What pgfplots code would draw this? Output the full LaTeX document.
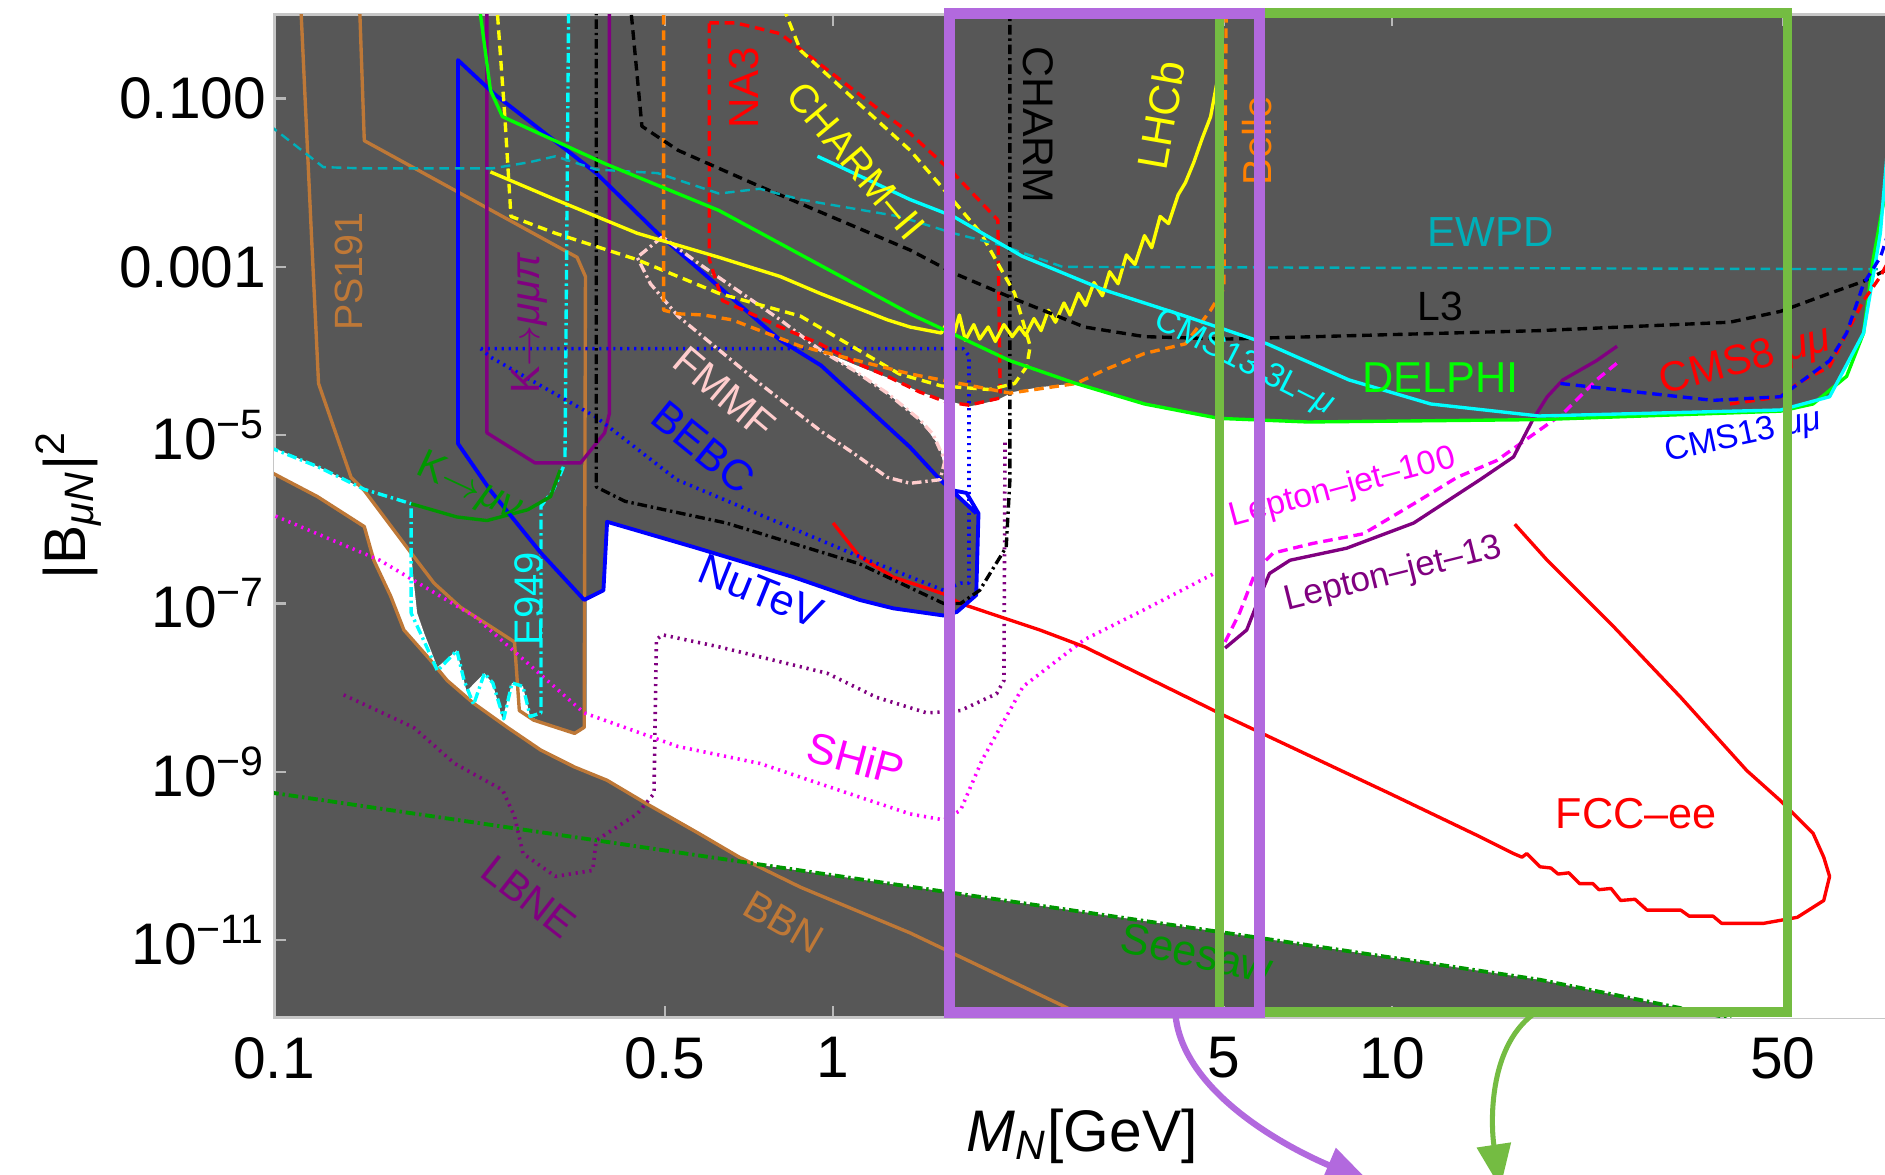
\documentclass[border=0pt]{standalone}
\usepackage{fontspec}
\setmainfont{Liberation Sans}
\usepackage{pgfplots}
\pgfplotsset{compat=1.18}
\usetikzlibrary{arrows.meta}

\newcommand\fs[1]{\fontsize{#1pt}{#1pt}\selectfont}

\definecolor{bgdark}{RGB}{87,87,87}
\definecolor{cTeal}{RGB}{0,175,185}
\definecolor{cCyan}{RGB}{0,255,255}
\definecolor{cLime}{RGB}{0,255,0}
\definecolor{cGreen}{RGB}{0,150,0}
\definecolor{cBrown}{RGB}{190,120,55}
\definecolor{cPurple}{RGB}{128,0,128}
\definecolor{cMagenta}{RGB}{255,0,255}
\definecolor{cPink}{RGB}{255,205,205}
\definecolor{cOrange}{RGB}{255,128,0}
\definecolor{cYellow}{RGB}{255,255,0}
\definecolor{cRed}{RGB}{255,0,0}
\definecolor{cBlue}{RGB}{0,0,255}
\definecolor{ovPurple}{RGB}{178,105,222}
\definecolor{ovGreen}{RGB}{116,188,66}

\pgfplotsset{
  dashedline/.style={dash pattern=on 2pt off 1.2pt},
  dottedline/.style={dash pattern=on 0.45pt off 1pt, line width=0.75pt},
  dashdotline/.style={dash pattern=on 2pt off 0.8pt on 0.5pt off 0.8pt},
}

\begin{document}
\begin{tikzpicture}
\path[use as bounding box] (0,0) rectangle (392pt,244.25pt);

\begin{axis}[
  at={(57pt,32.625pt)}, anchor=south west,
  scale only axis, width=337.5pt, height=208.625pt,
  xmode=log, ymode=log,
  xmin=0.1, xmax=80, ymin=1.2e-12, ymax=1,
  axis background/.style={fill=bgdark},
  axis line style={draw=gray!45, line width=0.6pt},
  tick style={draw=gray!55, line width=0.5pt},
  major tick length=2.5pt,
  xminorticks=false, yminorticks=false,
  xtick={0.1,0.5,1,5,10,50},
  xticklabels={0.1,0.5,1,5,10,50},
  ytick={1e-11,1e-9,1e-7,1e-5,1e-3,1e-1},
  yticklabels={10\textsuperscript{−11},10\textsuperscript{−9},10\textsuperscript{−7},10\textsuperscript{−5},0.001,0.100},
  tick label style={font=\fs{12.2}, text=black},
  xticklabel style={inner sep=0pt, yshift=-3.9pt},
  yticklabel style={inner sep=0pt, xshift=-1.5pt},
  xlabel={{\itshape M}\textsubscript{\itshape N}[GeV]},
  ylabel={|B\textsubscript{\itshape μN}|\textsuperscript{2}},
  xlabel style={at={([yshift=-24.6pt]axis description cs:0.4978,0)}, anchor=center, font=\fs{12.2}},
  ylabel style={at={([xshift=-42.75pt]axis description cs:0,0.511)}, anchor=center, font=\fs{12.2}},
  every axis plot/.append style={no markers, line width=0.7pt, line join=round},
]

% allowed (unexcluded) region
\addplot[fill=white, draw=none] coordinates {
 (0.098,7.44e-6) (0.1195,4.25e-6) (0.145,2.276e-6) (0.1593,9.68e-7) (0.1759,3.98e-7)
 (0.1776,1.931e-7) (0.1803,7.69e-8) (0.1857,4.39e-8) (0.196,1.75e-8) (0.2123,2.773e-8)
 (0.2209,9.06e-9) (0.2378,1.484e-8) (0.2462,1.104e-8) (0.2562,4.25e-9) (0.2665,1.14e-8)
 (0.2788,1.033e-8) (0.2871,4.54e-9) (0.2958,4.115e-9) (0.3249,3.162e-9) (0.3448,2.773e-9)
 (0.3587,3.268e-9) (0.3623,5.01e-9) (0.3623,1.104e-7) (0.3883,1.436e-7) (0.3942,9.36e-7)
 (0.563,4.69e-7) (0.849,2.062e-7) (1.115,1.104e-7) (1.281,8.77e-8) (1.472,7.69e-8)
 (1.577,7.2e-8) (1.665,7.94e-8) (1.803,1.259e-7) (1.82,1.179e-6) (1.585,2.865e-6)
 (1.577,4.25e-6) (1.554,7.2e-6) (1.428,1.533e-5) (1.25,3.162e-5) (1.088,5.91e-5)
 (0.947,1.033e-4) (1.088,6.965e-5) (1.25,4.85e-5) (1.428,3.268e-5) (1.585,2.596e-5)
 (1.759,2.203e-5) (1.961,2.596e-5) (2.102,3.268e-5) (2.343,3.728e-5) (2.72,4.115e-5)
 (3.606,2.351e-5) (4.90,1.585e-5) (7.07,1.436e-5) (18.39,1.533e-5) (49.5,1.995e-5)
 (60.6,2.865e-5) (69.7,1.638e-4) (74.7,2.512e-3) (76.2,1.068e-2) (77.7,0.2062)
 (84.9,2.87) (84.9,5.53e-13) (40.4,1.178e-12) (18.39,3.38e-12) (5.05,1.219e-11)
 (1.373,4.325e-11) (0.732,7.94e-11) (0.6796,9.68e-11) (0.574,1.868e-10) (0.4618,4.25e-10)
 (0.3942,7.94e-10) (0.3448,1.14e-9) (0.3002,1.807e-9) (0.2614,3.378e-9) (0.2275,6.52e-9)
 (0.204,1.218e-8) (0.1904,2.131e-8) (0.1707,4.85e-8) (0.1617,1.218e-7) (0.1508,3.268e-7)
 (0.145,8.21e-7) (0.1195,1.868e-6) (0.098,3.728e-6)
} -- cycle;

% PS191
\addplot[cBrown] coordinates {
 (0.1115,1.5) (0.1166,2.512e-3) (0.1201,4.115e-5) (0.1373,3.162e-6) (0.145,2.203e-6)
 (0.1759,3.98e-7) (0.1932,1.75e-7) (0.2154,9.06e-8) (0.2438,5.35e-8) (0.2692,3.49e-8)
 (0.2746,5.35e-9) (0.2914,4.115e-9) (0.3448,2.865e-9) (0.3587,3.378e-9) (0.3606,7.69e-4)
 (0.3483,1.301e-3) (0.145,3.162e-2) (0.1421,1.5)};
% BBN
\addplot[cBrown] coordinates {
 (0.098,3.728e-6) (0.1195,1.868e-6) (0.145,8.21e-7) (0.1508,3.268e-7) (0.1617,1.218e-7)
 (0.1707,4.85e-8) (0.1904,2.131e-8) (0.204,1.218e-8) (0.2275,6.52e-9) (0.2614,3.378e-9)
 (0.3002,1.807e-9) (0.3448,1.14e-9) (0.3942,7.94e-10) (0.4618,4.25e-10) (0.574,1.868e-10)
 (0.6796,9.68e-11) (0.8748,4.25e-11) (1.373,1.219e-11) (2.588,1.638e-12) (2.929,1.068e-12)};
% Seesaw
\addplot[cGreen, dashdotline, line width=0.8pt] coordinates {
 (0.098,5.71e-10) (0.377,1.535e-10) (1.373,4.325e-11) (5.05,1.219e-11) (18.39,3.38e-12) (40.4,1.178e-12)};
% LBNE
\addplot[cPurple, dottedline] coordinates {
 (0.1332,8.21e-9) (0.1776,3.378e-9) (0.2102,1.259e-9) (0.2562,6.1e-10) (0.2692,2.961e-10)
 (0.2788,1.068e-10) (0.3186,5.72e-11) (0.3715,6.74e-11) (0.377,1.533e-10) (0.4462,3.162e-10)
 (0.4782,5.53e-10) (0.4829,3.728e-8) (0.495,4.25e-8) (0.6247,3.06e-8) (0.9755,1.484e-8)
 (1.195,7.69e-9) (1.472,5.01e-9) (1.69,5.35e-9) (1.961,8.48e-9) (2.021,1.218e-8) (2.03,8.77e-6)};
% SHiP
\addplot[cMagenta, dottedline] coordinates {
 (0.098,1.179e-6) (0.1546,3.268e-7) (0.2287,6.965e-8) (0.3587,5.01e-9) (0.528,2.0e-9)
 (0.7393,1.259e-9) (1.115,5.01e-10) (1.373,3.162e-10) (1.577,2.683e-10) (1.69,3.49e-10)
 (1.848,1.389e-9) (2.187,1.033e-8) (2.815,3.728e-8) (3.606,8.48e-8) (4.805,2.276e-7)};
% Lepton-jet-100
\addplot[cMagenta, dashedline] coordinates {
 (5.025,3.49e-8) (5.333,7.69e-8) (5.715,2.512e-7) (6.125,3.98e-7) (7.21,5.18e-7)
 (8.88,6.74e-7) (10.93,1.533e-6) (13.07,3.162e-6) (15.39,5.01e-6) (17.68,9.68e-6)
 (20.2,1.807e-5) (23.2,4.54e-5) (25.25,7.2e-5)};
% Lepton-jet-13
\addplot[cPurple] coordinates {
 (5.025,2.961e-8) (5.493,4.85e-8) (5.8,1.218e-7) (6.034,2.276e-7) (6.565,3.268e-7)
 (8.286,4.54e-7) (10.93,9.06e-7) (14.36,2.961e-6) (16.49,5.53e-6) (17.85,1.533e-5)
 (18.94,2.865e-5) (20.2,4.54e-5) (23.2,7.69e-5) (25.25,1.14e-4)};
% FCC-ee
\addplot[cRed] coordinates {
 (1.0,9.06e-7) (1.115,3.607e-7) (1.281,2.062e-7) (1.577,1.301e-7) (1.69,1e-7) (2.343,4.85e-8)
 (2.815,3.06e-8) (5.05,4.54e-9) (9.90,5.53e-10) (14.36,1.692e-10) (16.49,1.068e-10)
 (17.07,9.68e-11) (17.41,1.068e-10) (18.39,7.44e-11) (19.23,7.2e-11) (19.81,6.1e-11)
 (20.71,6.31e-11) (21.65,4.69e-11) (22.87,4.69e-11) (23.44,3.98e-11) (24.63,4.115e-11)
 (25.63,2.961e-11) (27.19,3.06e-11) (28.57,2.276e-11) (32.82,2.276e-11) (33.98,1.931e-11)
 (37.5,1.931e-11) (38.84,1.585e-11) (46.2,1.585e-11) (53.05,1.868e-11) (59.16,2.961e-11)
 (60.6,5.72e-11) (59.16,9.68e-11) (56.6,1.868e-10) (49.5,4.54e-10) (43.1,1.033e-9)
 (32.82,7.69e-9) (24.87,5.35e-8) (18.94,3.268e-7) (16.57,8.77e-7)};
% E949
\addplot[cCyan, dashdotline] coordinates {
 (0.098,7.2e-6) (0.1195,4.25e-6) (0.145,2.276e-6) (0.1759,1.533e-6) (0.1759,7.69e-8)
 (0.1829,4.39e-8) (0.196,1.585e-8) (0.2123,2.773e-8) (0.2187,1.218e-8) (0.2275,6.31e-9)
 (0.2378,1.484e-8) (0.2462,1.14e-8) (0.2575,4.25e-9) (0.2665,1.14e-8) (0.2788,1.033e-8)
 (0.2871,4.54e-9) (0.3002,5.01e-9) (0.3002,1.436e-6) (0.3154,2.203e-6) (0.3249,3.378e-6)
 (0.3314,4.69e-6) (0.3365,1.5)};
% K -> mu nu
\addplot[cGreen] coordinates {
 (0.1759,1.533e-6) (0.2123,1.068e-6) (0.2403,9.68e-7) (0.2843,1.301e-6) (0.3123,1.868e-6) (0.3249,3.852e-6)};
% K -> mu mu pi
\addplot[cPurple] coordinates {
 (0.2403,1.5) (0.2403,1.068e-5) (0.2929,4.69e-6) (0.3535,4.69e-6) (0.3903,1.068e-5) (0.398,1.807e-5) (0.398,1.5)};
% BEBC (dotted)
\addplot[cBlue, dottedline] coordinates {
 (0.2343,1.068e-4) (1.707,1.068e-4) (1.75,8.77e-5) (1.75,1.75e-7) (1.69,1.75e-7) (1.577,1.436e-7)
 (1.115,3.607e-7) (0.5253,2.961e-6) (0.377,1.638e-5) (0.2438,8.48e-5) (0.2343,1.068e-4)};
% BEBC and NuTeV
\addplot[cBlue, line width=0.8pt] coordinates {
 (1.641,2.203e-6) (1.732,2.062e-6) (1.82,1.179e-6) (1.803,1.259e-7) (1.665,7.94e-8)
 (1.577,7.2e-8) (1.472,7.69e-8) (1.281,8.77e-8) (1.115,1.104e-7) (0.849,2.062e-7)
 (0.563,4.69e-7) (0.3942,9.36e-7) (0.3883,1.436e-7) (0.3587,1.104e-7) (0.3002,3.98e-7)
 (0.2438,2.203e-6) (0.2133,7.94e-6) (0.2133,0.2865) (0.2474,0.114) (0.377,1.301e-2)
 (0.4853,2.512e-3) (0.8043,1.345e-4) (0.9517,6.74e-5) (1.373,7.2e-6) (1.554,2.961e-6) (1.803,1.179e-6)};
% FMMF
\addplot[cPink, dashdotline] coordinates {
 (0.495,2.276e-3) (0.4462,1.301e-3) (0.4711,6.31e-4) (0.528,2.596e-4) (0.7393,4.115e-5)
 (0.947,1.14e-5) (1.088,6.1e-6) (1.25,3.162e-6) (1.373,2.683e-6) (1.554,2.961e-6)
 (1.585,5.01e-6) (1.508,1.033e-5) (1.428,1.533e-5) (1.25,3.162e-5) (1.088,5.91e-5)
 (0.947,1.033e-4) (0.8043,2.351e-4) (0.574,1.104e-3) (0.495,2.276e-3)};
% CHARM
\addplot[black, dashdotline] coordinates {
 (0.377,1.5) (0.377,2.43e-6) (0.4246,1.638e-6) (0.6435,9.06e-7) (1.115,2.961e-7) (1.577,1e-7)
 (1.69,1e-7) (1.829,1.436e-7) (2.04,4.69e-7) (2.071,2.865e-6) (2.071,1.5)};
% NA3
\addplot[cRed, dashedline] coordinates {
 (0.6005,0.794) (0.6696,0.794) (0.8043,0.5908) (1.373,3.852e-2) (1.641,1.301e-2) (1.971,3.607e-3)
 (1.991,2.773e-5) (1.75,2.276e-5) (1.585,2.512e-5) (1.428,3.268e-5) (1.25,5.01e-5) (1.088,7.44e-5)
 (0.947,1.218e-4) (0.8043,1.931e-4) (0.634,3.98e-4) (0.6005,1.218e-3) (0.6005,0.794)};
% CHARM-II
\addplot[cYellow, dashedline] coordinates {
 (0.2499,1.5) (0.2587,6.1e-2) (0.2653,3.98e-3) (0.3186,2.512e-3) (0.4462,1.218e-3) (0.6247,4.85e-4)
 (0.8748,2.596e-4) (1.313,5.35e-5) (1.561,3.852e-5) (1.904,3.49e-5) (2.112,4.115e-5) (2.219,6.52e-5)
 (2.252,1.14e-4) (2.112,4.85e-4) (1.838,2.512e-3) (1.561,9.06e-3) (1.373,2.43e-2) (0.8748,0.3728) (0.8043,1.5)};
% Belle
\addplot[cOrange, dashedline] coordinates {
 (0.4975,1.5) (0.4975,3.06e-4) (0.528,2.773e-4) (0.5857,2.683e-4) (0.6596,2.351e-4) (0.8748,1.14e-4)
 (1.373,5.35e-5) (2.071,3.162e-5) (2.72,4.115e-5) (3.047,5.91e-5) (3.606,9.36e-5) (4.267,1.218e-4)
 (4.734,3.06e-4) (5.0,5.53e-4) (5.05,1.5)};
% LHCb
\addplot[cYellow] coordinates {
 (0.2438,1.345e-2) (0.3186,6.31e-3) (0.4462,2.512e-3) (0.6247,1.301e-3) (0.8043,7.69e-4) (0.947,4.85e-4)
 (1.25,2.351e-4) (1.373,1.931e-4) (1.561,1.638e-4) (1.601,2.203e-4) (1.641,1.484e-4) (1.682,2.683e-4)
 (1.724,1.345e-4) (1.785,2.062e-4) (1.829,1.389e-4) (1.894,1.931e-4) (1.951,1.301e-4) (2.021,2.062e-4)
 (2.091,1.484e-4) (2.154,1.931e-4) (2.209,1.533e-4) (2.287,2.43e-4) (2.355,1.75e-4) (2.427,3.06e-4)
 (2.499,2.203e-4) (2.588,3.728e-4) (2.653,2.683e-4) (2.746,4.85e-4) (2.829,3.49e-4) (2.929,6.52e-4)
 (3.032,4.54e-4) (3.123,8.77e-4) (3.234,6.31e-4) (3.347,1.389e-3) (3.466,1.068e-3) (3.606,2.351e-3)
 (3.715,1.692e-3) (3.846,3.98e-3) (3.981,3.268e-3) (4.142,7.2e-3) (4.267,1e-2) (4.418,1.75e-2)
 (4.574,3.378e-2) (4.734,6.1e-2) (4.853,0.1484) (4.925,0.398) (4.975,1.5)};
% L3
\addplot[black, dashedline] coordinates {
 (0.4331,1.5) (0.455,4.69e-2) (0.528,2.43e-2) (0.7393,9.06e-3) (1.373,1.585e-3) (1.641,8.48e-4)
 (2.071,4.39e-4) (2.815,1.931e-4) (3.606,1.484e-4) (5.05,1.389e-4) (18.39,1.75e-4) (40.2,2.203e-4)
 (49.5,2.961e-4) (60.6,4.85e-4) (69.7,6.74e-4) (76.2,9.06e-4) (84.9,1.484e-3)};
% EWPD
\addplot[cTeal, dashedline, line width=0.5pt] coordinates {
 (0.098,4.85e-2) (0.1225,1.533e-2) (0.1428,1.484e-2) (0.2462,1.484e-2) (0.2857,1.75e-2) (0.3186,2.062e-2)
 (0.377,1.436e-2) (0.4853,1.301e-2) (0.6247,7.44e-3) (0.7393,8.48e-3) (0.8748,6.31e-3) (1.313,3.98e-3)
 (1.641,2.512e-3) (2.0,1.807e-3) (2.575,1e-3) (84.9,9.36e-4)};
% DELPHI
\addplot[cLime] coordinates {
 (0.2321,1.5) (0.2438,0.1259) (0.2562,6.1e-2) (0.3903,1.692e-2) (0.6247,4.69e-3) (1.373,2.773e-4)
 (2.071,7.69e-5) (2.72,4.115e-5) (3.606,2.351e-5) (4.90,1.585e-5) (7.07,1.436e-5) (18.39,1.533e-5)
 (49.5,1.931e-5) (56.6,2.351e-5) (65.0,5.01e-5) (69.7,1.638e-4) (72.5,1.218e-3) (76.2,7.44e-3) (78.8,0.2062)};
% CMS13 3L-mu
\addplot[cCyan] coordinates {
 (0.9376,2.062e-2) (1.0,1.692e-2) (1.373,6.31e-3) (1.641,3.98e-3) (2.176,1.345e-3) (3.047,5.35e-4)
 (4.267,2.596e-4) (5.975,1.218e-4) (8.37,4.54e-5) (11.72,2.351e-5) (18.3,1.692e-5) (49.5,1.995e-5)
 (60.6,2.865e-5) (69.7,1.638e-4) (74.7,2.512e-3) (77.7,5.53e-2) (80,1)};
% CMS8 mu mu
\addplot[cRed, dashedline] coordinates {
 (40.2,2.351e-5) (49.5,2.865e-5) (53.05,4.115e-5) (60.6,6.52e-5) (65.0,1.638e-4) (69.7,3.98e-4)
 (74.7,7.69e-4) (77.7,1.259e-3)};
% CMS13 mu mu
\addplot[cBlue, dashedline] coordinates {
 (20.0,4.115e-5) (28.57,3.162e-5) (37.5,2.596e-5) (49.5,2.865e-5) (60.6,7.69e-5) (65.0,1.638e-4)
 (69.7,6.31e-4) (74.7,1.301e-3) (77.7,2.865e-3)};
\end{axis}

\begin{scope}[x=0.25pt, y=-0.25pt, shift={(0pt,244.25pt)}]
\tikzset{lab/.style={inner sep=0pt, anchor=center}}
\node[lab, text=cBrown, rotate=90, font=\fs{8.2}] at (290,226) {PS191};
\node[lab, text=cPurple, rotate=90, font=\fs{8.5}] at (440,269) {K\ensuremath{\rightarrow}{\itshape μμπ}};
\node[lab, text=cRed, rotate=90, font=\fs{8.75}] at (619,73) {NA3};
\node[lab, text=cYellow, rotate=-50, font=\fs{8.3}] at (712,134) {CHARM–II};
\node[lab, text=black, rotate=-90, font=\fs{8.9}] at (864,104) {CHARM};
\node[lab, text=cYellow, rotate=80, font=\fs{8.9}] at (966,96) {LHCb};
\node[lab, text=cOrange, rotate=90, font=\fs{8.4}] at (1046,117) {Belle};
\node[lab, text=cTeal, font=\fs{8.75}] at (1240,193) {EWPD};
\node[lab, text=black, font=\fs{8.5}] at (1198,255) {L3};
\node[lab, text=cCyan, rotate=-27, font=\fs{7}] at (1035,302) {CMS13 3L–{\itshape μ}};
\node[lab, text=cLime, font=\fs{9}] at (1198,314) {DELPHI};
\node[lab, text=cRed, rotate=15, font=\fs{8.75}] at (1452,301) {CMS8 {\itshape μμ}};
\node[lab, text=cBlue, rotate=12, font=\fs{7}] at (1450,363) {CMS13 {\itshape μμ}};
\node[lab, text=cPink, rotate=-40, font=\fs{8.5}] at (603,327) {FMMF};
\node[lab, text=cBlue, rotate=-39, font=\fs{9}] at (585,372) {BEBC};
\node[lab, text=cGreen, rotate=-25, font=\fs{8.5}] at (390,406) {K\ensuremath{\rightarrow}{\itshape μν}};
\node[lab, text=cCyan, rotate=90, font=\fs{8.3}] at (440,498) {E949};
\node[lab, text=cBlue, rotate=-22, font=\fs{9}] at (633,492) {NuTeV};
\node[lab, text=cMagenta, rotate=15, font=\fs{7}] at (1117,406) {Lepton–jet–100};
\node[lab, text=cPurple, rotate=14, font=\fs{7.3}] at (1159,478) {Lepton–jet–13};
\node[lab, text=cMagenta, rotate=-15, font=\fs{9}] at (712,631) {SHiP};
\node[lab, text=cRed, font=\fs{9}] at (1361,677) {FCC–ee};
\node[lab, text=cPurple, rotate=-38, font=\fs{8.5}] at (440,746) {LBNE};
\node[lab, text=cBrown, rotate=-30, font=\fs{8.5}] at (652,767) {BBN};
\node[lab, text=cGreen, rotate=-12, font=\fs{9}] at (996,793) {Seesaw};

% highlighted mass windows
\draw[ovGreen, line width=2pt] (1014.5,11) rectangle (1487,842);
\draw[ovPurple, line width=2.25pt] (790,11) rectangle (1047.5,842);
\draw[ovPurple, line width=1.3pt, -{Triangle[length=9.5pt,width=7.5pt]}]
  (978,846) .. controls (985,905) and (1060,950) .. (1140,984);
\draw[ovGreen, line width=1.05pt, -{Triangle[length=9pt,width=7pt]}]
  (1275,844) .. controls (1238,872) and (1240,935) .. (1248,988);
\end{scope}
\end{tikzpicture}
\end{document}
